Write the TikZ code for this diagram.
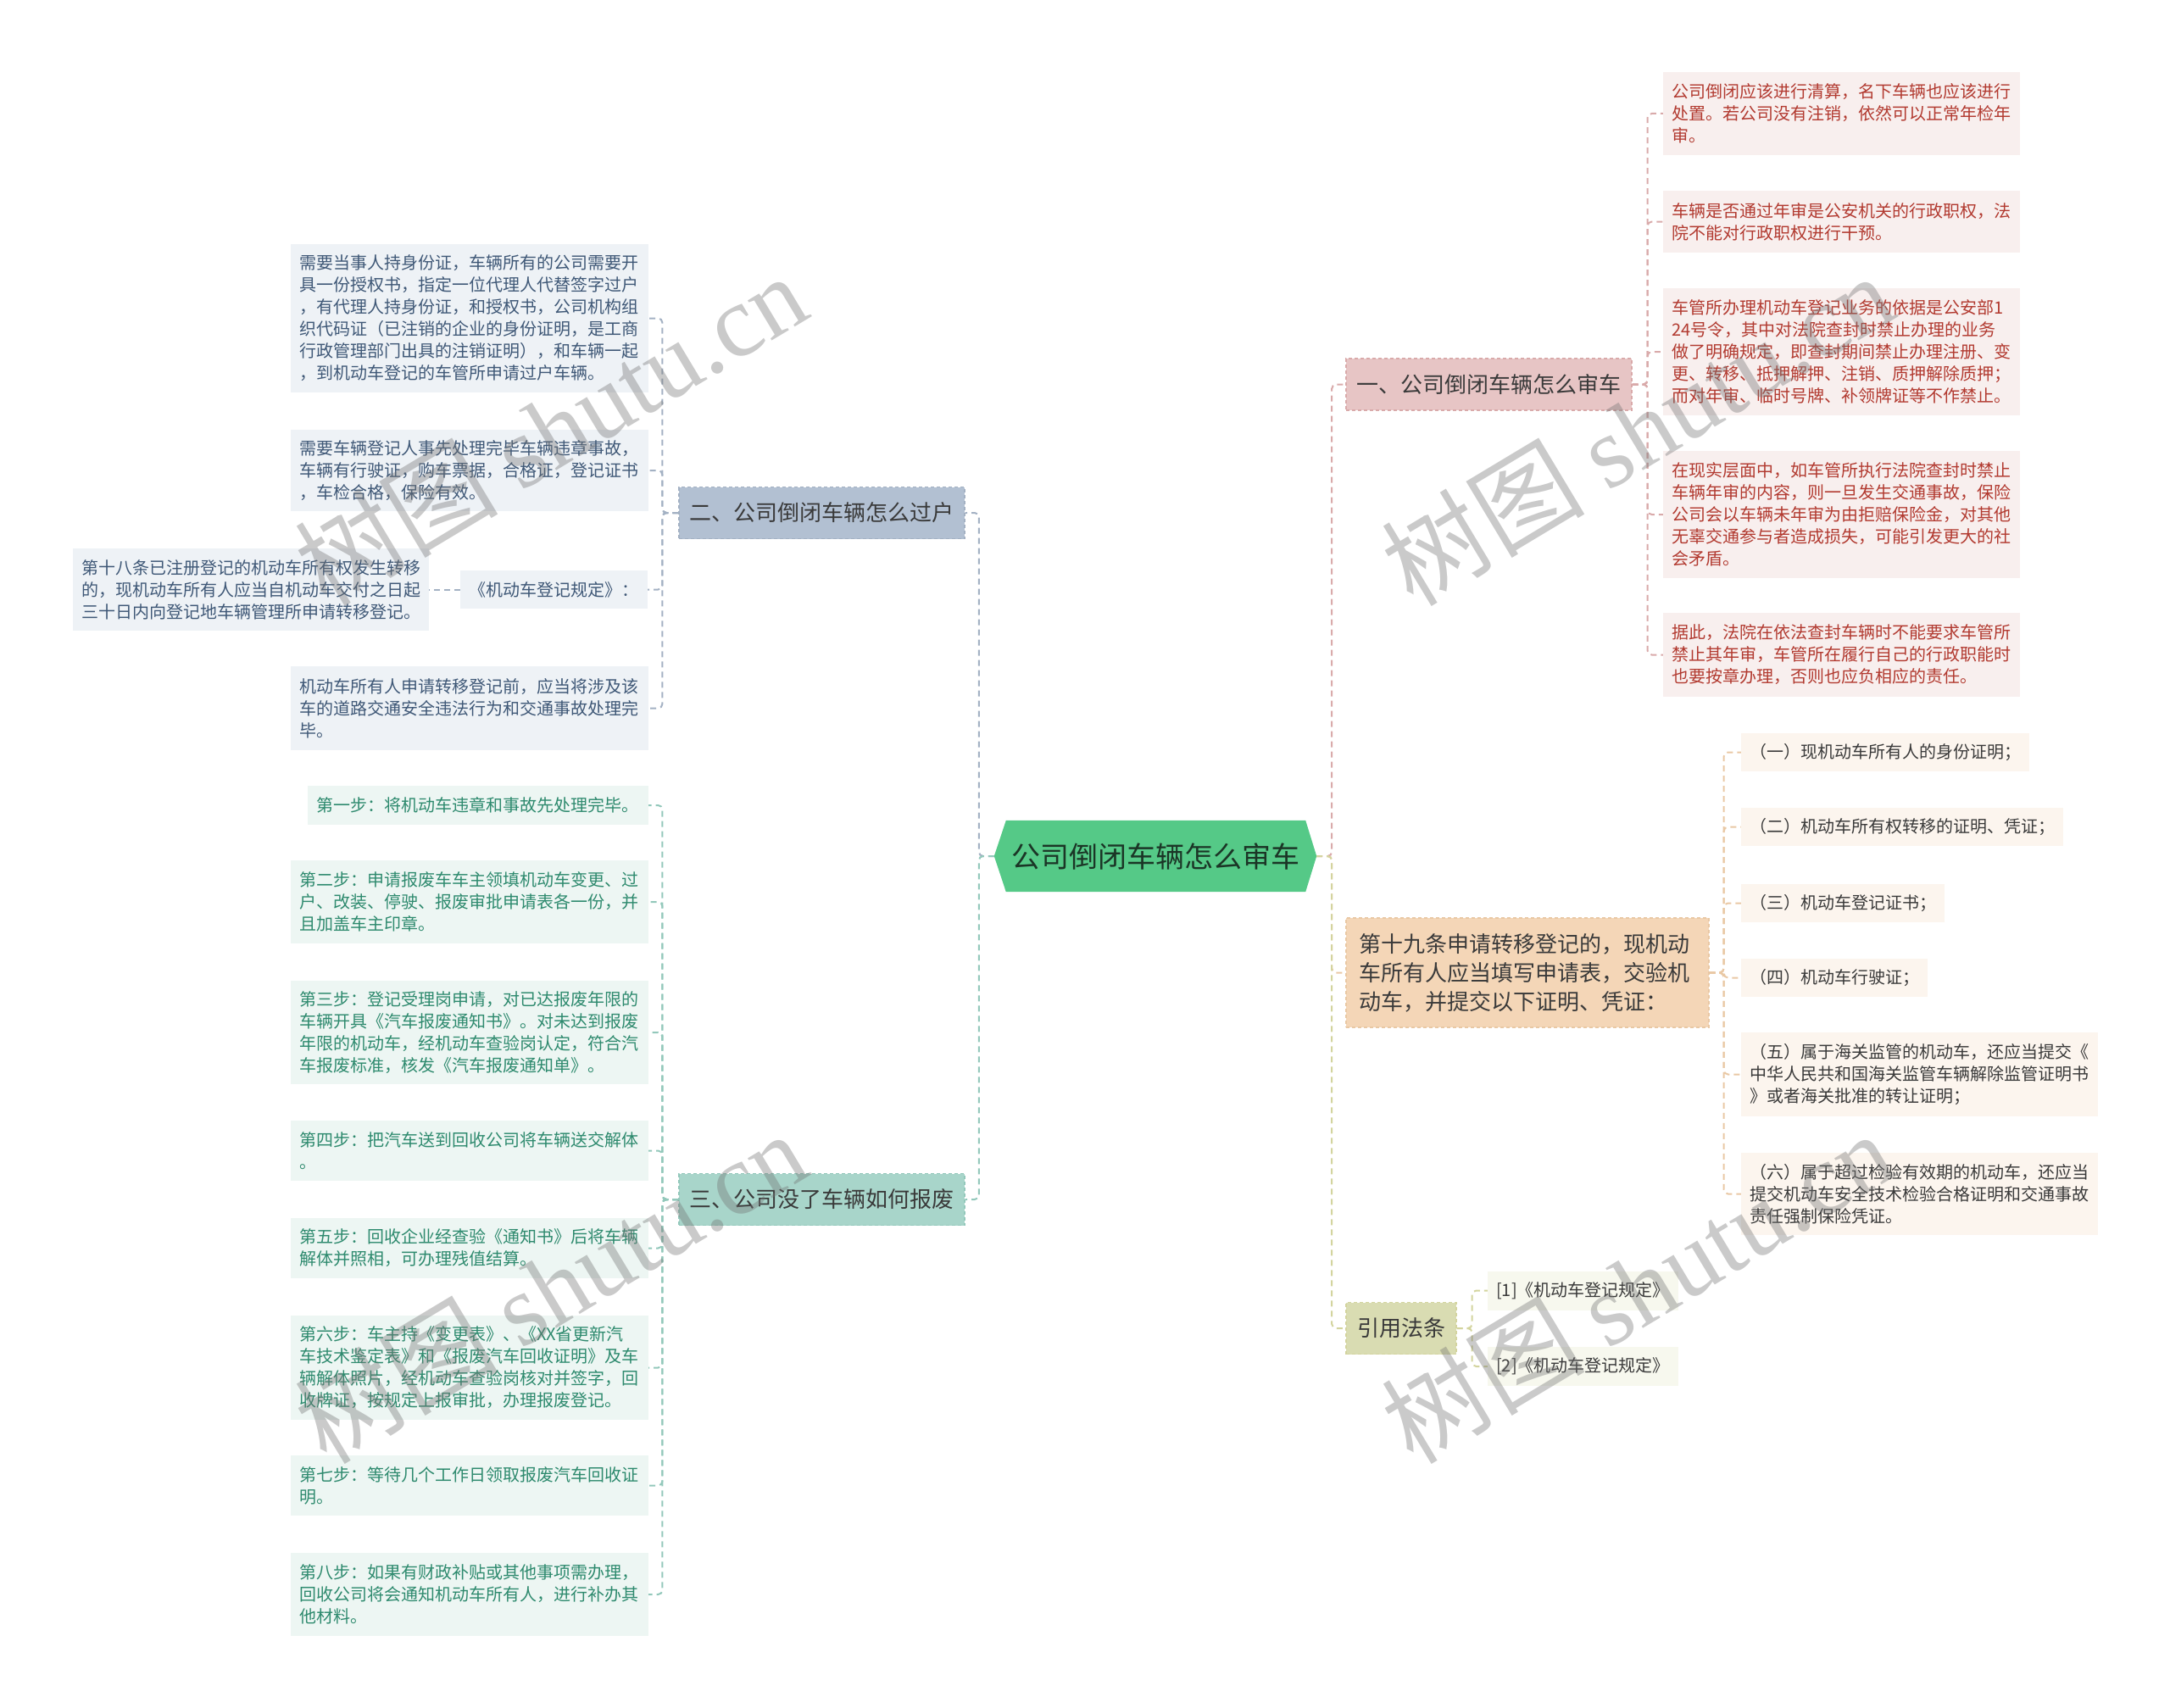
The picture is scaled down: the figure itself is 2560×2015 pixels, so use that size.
\documentclass[tikz,border=0pt]{standalone}
\usepackage{fontspec}
\setmainfont{Noto Sans CJK SC}
\newfontfamily\wmserif{Liberation Serif}
\usetikzlibrary{backgrounds}
\definecolor{rootgreen}{HTML}{55C987}
\definecolor{roottext}{HTML}{1B3526}
\definecolor{bAfill}{HTML}{E7C5C5}\definecolor{bAline}{HTML}{D9AAAA}
\definecolor{bBfill}{HTML}{B2C0D2}\definecolor{bBline}{HTML}{A3B1C3}
\definecolor{bCfill}{HTML}{A8D5CA}\definecolor{bCline}{HTML}{93C8BB}
\definecolor{bDfill}{HTML}{F4D6B7}\definecolor{bDline}{HTML}{E9C8A4}
\definecolor{bEfill}{HTML}{D9DCB2}\definecolor{bEline}{HTML}{D3D49E}
\definecolor{lAfill}{HTML}{F8EFEE}\definecolor{lAtext}{HTML}{B23A30}
\definecolor{lBfill}{HTML}{EEF2F6}\definecolor{lBtext}{HTML}{3F5877}
\definecolor{lCfill}{HTML}{EDF6F3}\definecolor{lCtext}{HTML}{2E8A6E}
\definecolor{lDfill}{HTML}{FCF5EE}
\definecolor{lEfill}{HTML}{F7F8EE}
\definecolor{darktext}{HTML}{3A3A3A}
\tikzset{
  small/.style={font=\fontsize{20pt}{26pt}\selectfont},
  big/.style={font=\fontsize{26pt}{34pt}\selectfont},
  leafbox/.style={small, inner xsep=10pt, inner ysep=0pt, align=left, anchor=center},
  leafA/.style={leafbox, fill=lAfill, text=lAtext, text width=401pt},
  leafB/.style={leafbox, fill=lBfill, text=lBtext, text width=402pt},
  leafC/.style={leafbox, fill=lCfill, text=lCtext, text width=402pt},
  leafD/.style={small, inner xsep=10pt, inner ysep=0pt, fill=lDfill, text=darktext, minimum height=45pt, anchor=west},
  leafE/.style={small, inner xsep=10pt, inner ysep=0pt, fill=lEfill, text=darktext, minimum height=46pt, anchor=west},
  branch/.style={big, inner xsep=12pt, inner ysep=0pt, minimum height=61pt, text=darktext, line width=1.2pt, dash pattern=on 4pt off 3pt},
  conn/.style={line width=2pt, dash pattern=on 7pt off 5pt, rounded corners=5pt},
  wm/.style={font=\fontsize{120pt}{130pt}\selectfont, text=black!55, opacity=0.38, inner sep=0pt}
}
\begin{document}
\begin{tikzpicture}[x=1pt,y=-1pt]
\useasboundingbox (0,0) rectangle (2560,2015);
% root
\node[font=\fontsize{34pt}{40pt}\selectfont, text=roottext, minimum width=380pt, minimum height=84pt, inner sep=0pt] (root) at (1363,1010) {公司倒闭车辆怎么审车};
% branches
\node[branch, fill=bAfill, draw=bAline, minimum width=337pt] (bA) at (1756.5,453.5) {一、公司倒闭车辆怎么审车};
\node[branch, fill=bBfill, draw=bBline, minimum width=337pt] (bB) at (969.5,605) {二、公司倒闭车辆怎么过户};
\node[branch, fill=bCfill, draw=bCline, minimum width=337pt] (bC) at (969.5,1415) {三、公司没了车辆如何报废};
\node[branch, fill=bDfill, draw=bDline, inner xsep=15pt, text width=398pt, align=left, minimum height=129pt] (bD) at (1802,1147.5) {第十九条申请转移登记的，现机动\\车所有人应当填写申请表，交验机\\动车，并提交以下证明、凭证：};
\node[branch, fill=bEfill, draw=bEline, minimum width=130pt, inner xsep=13pt] (bE) at (1653,1567) {引用法条};
% leaves of branch A (right, red)
\node[leafA, minimum height=98pt] (a1) at (2172.5,134) {公司倒闭应该进行清算，名下车辆也应该进行\\处置。若公司没有注销，依然可以正常年检年\\审。};
\node[leafA, minimum height=73pt] (a2) at (2172.5,261.5) {车辆是否通过年审是公安机关的行政职权，法\\院不能对行政职权进行干预。};
\node[leafA, minimum height=150pt] (a3) at (2172.5,415) {车管所办理机动车登记业务的依据是公安部1\\24号令，其中对法院查封时禁止办理的业务\\做了明确规定，即查封期间禁止办理注册、变\\更、转移、抵押解押、注销、质押解除质押；\\而对年审、临时号牌、补领牌证等不作禁止。};
\node[leafA, minimum height=150pt] (a4) at (2172.5,607) {在现实层面中，如车管所执行法院查封时禁止\\车辆年审的内容，则一旦发生交通事故，保险\\公司会以车辆未年审为由拒赔保险金，对其他\\无辜交通参与者造成损失，可能引发更大的社\\会矛盾。};
\node[leafA, minimum height=99pt] (a5) at (2172.5,772.5) {据此，法院在依法查封车辆时不能要求车管所\\禁止其年审，车管所在履行自己的行政职能时\\也要按章办理，否则也应负相应的责任。};
% leaves of branch B (left, blue)
\node[leafB, minimum height=175pt] (b1) at (554,375.5) {需要当事人持身份证，车辆所有的公司需要开\\具一份授权书，指定一位代理人代替签字过户\\，有代理人持身份证，和授权书，公司机构组\\织代码证（已注销的企业的身份证明，是工商\\行政管理部门出具的注销证明），和车辆一起\\，到机动车登记的车管所申请过户车辆。};
\node[leafB, minimum height=96pt] (b2) at (554,555) {需要车辆登记人事先处理完毕车辆违章事故，\\车辆有行驶证，购车票据，合格证，登记证书\\，车检合格，保险有效。};
\node[small, fill=lBfill, text=lBtext, inner sep=0pt, minimum width=221pt, minimum height=45pt] (b3) at (653.5,695.5) {《机动车登记规定》：};
\node[leafB, text width=400pt, minimum height=97pt] (b3a) at (296,695.5) {第十八条已注册登记的机动车所有权发生转移\\的，现机动车所有人应当自机动车交付之日起\\三十日内向登记地车辆管理所申请转移登记。};
\node[leafB, minimum height=99pt] (b4) at (554,835.5) {机动车所有人申请转移登记前，应当将涉及该\\车的道路交通安全违法行为和交通事故处理完\\毕。};
% leaves of branch C (left, green)
\node[leafC, text width=382pt, minimum height=46pt] (c1) at (564,950) {第一步：将机动车违章和事故先处理完毕。};
\node[leafC, minimum height=98pt] (c2) at (554,1064) {第二步：申请报废车车主领填机动车变更、过\\户、改装、停驶、报废审批申请表各一份，并\\且加盖车主印章。};
\node[leafC, minimum height=122pt] (c3) at (554,1218) {第三步：登记受理岗申请，对已达报废年限的\\车辆开具《汽车报废通知书》。对未达到报废\\年限的机动车，经机动车查验岗认定，符合汽\\车报废标准，核发《汽车报废通知单》。};
\node[leafC, minimum height=71pt] (c4) at (554,1357.5) {第四步：把汽车送到回收公司将车辆送交解体\\。};
\node[leafC, minimum height=71pt] (c5) at (554,1472.5) {第五步：回收企业经查验《通知书》后将车辆\\解体并照相，可办理残值结算。};
\node[leafC, minimum height=123pt] (c6) at (554,1613.5) {第六步：车主持《变更表》、《XX省更新汽\\车技术鉴定表》和《报废汽车回收证明》及车\\辆解体照片，经机动车查验岗核对并签字，回\\收牌证，按规定上报审批，办理报废登记。};
\node[leafC, minimum height=71pt] (c7) at (554,1752.5) {第七步：等待几个工作日领取报废汽车回收证\\明。};
\node[leafC, minimum height=98pt] (c8) at (554,1881) {第八步：如果有财政补贴或其他事项需办理，\\回收公司将会通知机动车所有人，进行补办其\\他材料。};
% leaves of bD (peach)
\node[leafD] (d1) at (2054,887.5) {（一）现机动车所有人的身份证明；};
\node[leafD] (d2) at (2054,975.5) {（二）机动车所有权转移的证明、凭证；};
\node[leafD] (d3) at (2054,1065.5) {（三）机动车登记证书；};
\node[leafD] (d4) at (2054,1153.5) {（四）机动车行驶证；};
\node[leafD, text width=401pt, align=left, minimum height=99pt] (d5) at (2054,1267.5) {（五）属于海关监管的机动车，还应当提交《\\中华人民共和国海关监管车辆解除监管证明书\\》或者海关批准的转让证明；};
\node[leafD, text width=401pt, align=left, minimum height=97pt] (d6) at (2054,1408.5) {（六）属于超过检验有效期的机动车，还应当\\提交机动车安全技术检验合格证明和交通事故\\责任强制保险凭证。};
% leaves of bE (olive)
\node[leafE] (e1) at (1755,1522.5) {[1]《机动车登记规定》};
\node[leafE] (e2) at (1755,1612) {[2]《机动车登记规定》};
% backgrounds and connectors
\begin{scope}[on background layer]
\fill[rootgreen] (root.west) -- ([xshift=14pt]root.north west) -- ([xshift=-13pt]root.north east) -- (root.east) -- ([xshift=-13pt]root.south east) -- ([xshift=14pt]root.south west) -- cycle;
\draw[conn, bAline] (root.east) -- ++(18,0) |- (bA.west);
\draw[conn, bDline] (root.east) -- ++(18,0) |- (bD.west);
\draw[conn, bEline] (root.east) -- ++(18,0) |- (bE.west);
\draw[conn, bBline] (root.west) -- ++(-18,0) |- (bB.east);
\draw[conn, bCline] (root.west) -- ++(-18,0) |- (bC.east);
\foreach \n in {a1,a2,a3,a4,a5} \draw[conn, bAline] (bA.east) -- ++(18,0) |- (\n.west);
\foreach \n in {b1,b2,b3,b4} \draw[conn, bBline] (bB.west) -- ++(-19,0) |- (\n.east);
\draw[conn, bBline] (b3.west) -- (b3a.east);
\foreach \n in {c1,c2,c3,c4,c5,c6,c7,c8} \draw[conn, bCline] (bC.west) -- ++(-19,0) |- (\n.east);
\foreach \n in {d1,d2,d3,d4,d5,d6} \draw[conn, bDline] (bD.east) -- ++(17,0) |- (\n.west);
\foreach \n in {e1,e2} \draw[conn, bEline] (bE.east) -- ++(18,0) |- (\n.west);
\end{scope}
% watermarks
\node[wm, rotate=31] (wm1) at (649,506) {树图 {\wmserif shutu.cn}};
\node[wm, rotate=31] (wm2) at (1931,506) {树图 {\wmserif shutu.cn}};
\node[wm, rotate=31] (wm3) at (649,1518) {树图 {\wmserif shutu.cn}};
\node[wm, rotate=31] (wm4) at (1931,1518) {树图 {\wmserif shutu.cn}};
\end{tikzpicture}
\end{document}
